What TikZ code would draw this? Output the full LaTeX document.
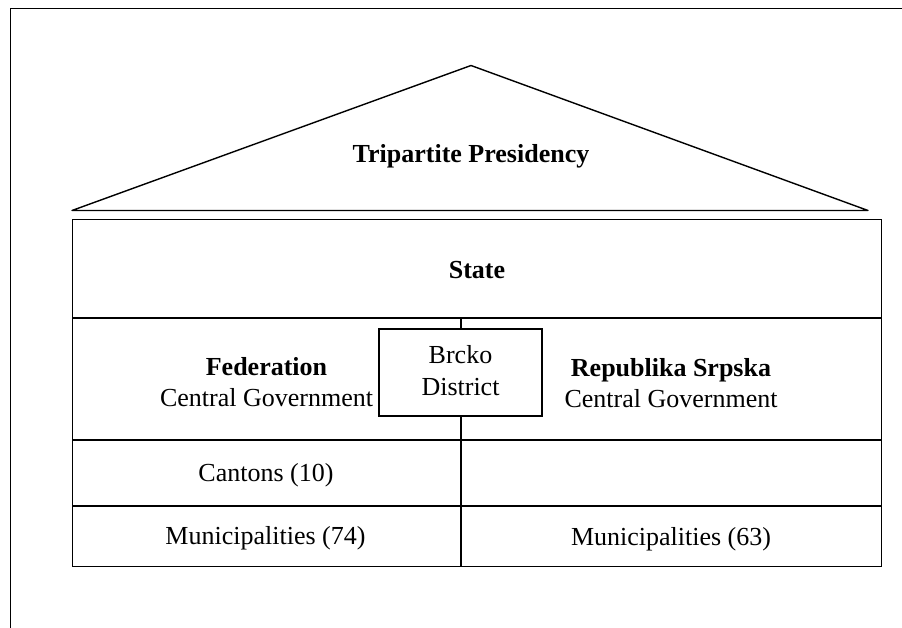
\documentclass[tikz,border=0pt]{standalone}
\usepackage{fontspec}
\setmainfont{Liberation Serif}
\begin{document}
\begin{tikzpicture}[x=1pt,y=-1pt,line width=1.4pt,line join=round,
  txt/.style={anchor=base,inner sep=0pt,font=\fontsize{26}{30}\selectfont},
  boldtxt/.style={anchor=base,inner sep=0pt,font=\fontsize{26}{30}\selectfont\bfseries}]
\useasboundingbox (0,0) rectangle (902,628);
% outer frame (cut off right and bottom)
\coordinate (fa) at (10.5,628);
\coordinate (fb) at (10.5,8.5);
\coordinate (fc) at (902,8.5);
\draw[line join=miter] (fa) -- (fb) -- (fc);
% roof
\coordinate (rl) at (72,210.5);
\coordinate (rt) at (471,65.5);
\coordinate (rr) at (868,210.5);
\draw (rl) -- (rt) -- (rr) -- cycle;
% table
\coordinate (tl) at (72.5,219.5);
\coordinate (br) at (881.5,566.5);
\draw[line join=miter] (tl) rectangle (br);
\draw (72.5,318) -- (881.5,318);
\draw (72.5,440) -- (881.5,440);
\draw (72.5,506) -- (881.5,506);
\coordinate (vt) at (461,318);
\coordinate (vb) at (461,566.5);
\draw (vt) -- (vb);
\node[draw,fill=white,line join=miter,inner sep=0pt,minimum width=163pt,minimum height=87pt] (brcko) at (460.5,372.5) {};
% texts
\node[boldtxt] (pres) at (471,163) {Tripartite Presidency};
\node[boldtxt] (state) at (477,279) {State};
\node[boldtxt] (fed) at (266.5,375) {Federation};
\node[txt] (fedcg) at (266.5,406) {Central Government};
\node[txt] (brckoA) at (460.5,363) {Brcko};
\node[txt] (brckoB) at (460.5,395) {District};
\node[boldtxt] (rs) at (671,376) {Republika Srpska};
\node[txt] (rscg) at (671,407.5) {Central Government};
\node[txt] (cant) at (266,481.5) {Cantons (10)};
\node[txt] (mun74) at (265.5,544) {Municipalities (74)};
\node[txt] (mun63) at (671,545) {Municipalities (63)};
\end{tikzpicture}
\end{document}
